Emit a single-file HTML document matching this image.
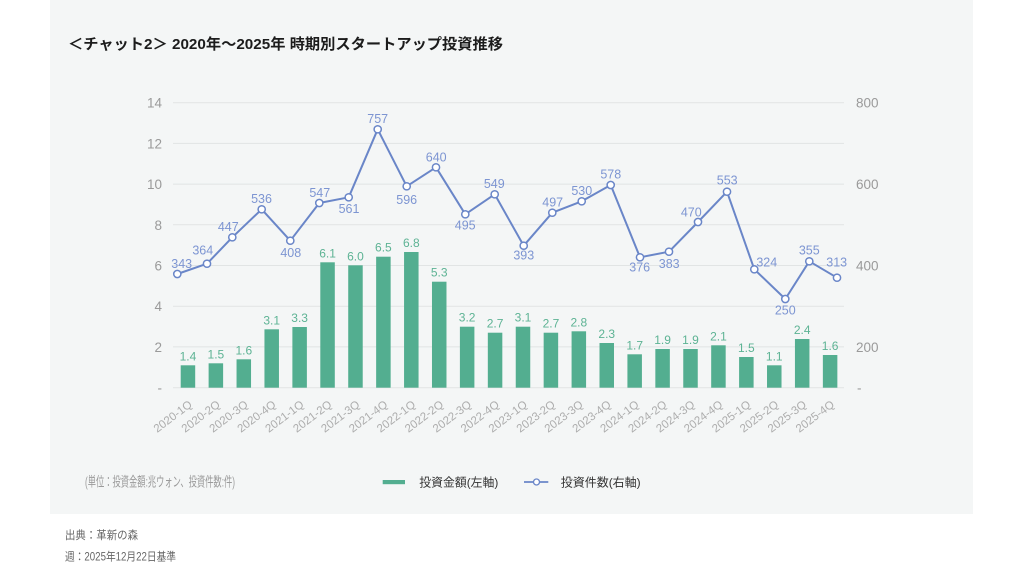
<!DOCTYPE html>
<html><head><meta charset="utf-8"><style>
html,body{margin:0;padding:0;background:#fff;}
svg{display:block;}
text{font-family:"Liberation Sans","Noto Sans CJK JP",sans-serif;}
</style></head><body>
<svg width="1024" height="576" viewBox="0 0 1024 576" xmlns="http://www.w3.org/2000/svg">
<rect x="0" y="0" width="1024" height="576" fill="#ffffff"/>
<rect x="50" y="0" width="923" height="514" fill="#f4f6f6"/>
<text x="68" y="49" font-size="15" font-weight="bold" fill="#1c1c1c" textLength="435" lengthAdjust="spacingAndGlyphs">＜チャット2＞ 2020年～2025年 時期別スタートアップ投資推移</text>
<g stroke="#e1e4e4" stroke-width="1">
<line x1="173" y1="102.7" x2="844" y2="102.7"/>
<line x1="173" y1="143.4" x2="844" y2="143.4"/>
<line x1="173" y1="184.1" x2="844" y2="184.1"/>
<line x1="173" y1="224.8" x2="844" y2="224.8"/>
<line x1="173" y1="265.5" x2="844" y2="265.5"/>
<line x1="173" y1="306.2" x2="844" y2="306.2"/>
<line x1="173" y1="346.9" x2="844" y2="346.9"/>
<line x1="173" y1="387.7" x2="844" y2="387.7"/>
</g>
<g font-size="13.5" fill="#9a9a9a" text-anchor="end">
<text x="162" y="107.7">14</text>
<text x="162" y="148.4">12</text>
<text x="162" y="189.1">10</text>
<text x="162" y="229.8">8</text>
<text x="162" y="270.5">6</text>
<text x="162" y="311.2">4</text>
<text x="162" y="351.9">2</text>
<text x="162" y="392.7">-</text>
</g>
<g font-size="13.5" fill="#9a9a9a">
<text x="856" y="107.7">800</text>
<text x="856" y="189.1">600</text>
<text x="856" y="270.5">400</text>
<text x="856" y="351.9">200</text>
<text x="857" y="392.7">-</text>
</g>
<g fill="#53ae90" id="bars"></g>
<g id="barlabels" font-size="12" fill="#5db394" text-anchor="middle"></g>
<g id="xlabels" font-size="11.5" fill="#adadad" text-anchor="end"></g>
<polyline id="line" fill="none" stroke="#6a86c8" stroke-width="2" stroke-linejoin="round" points=""/>
<g id="pts" fill="#ffffff" stroke="#6a86c8" stroke-width="1.5"></g>
<g id="linelabels" font-size="12.5" fill="#7d95d2" text-anchor="middle"></g>
<text x="85" y="486.5" font-size="13.5" fill="#9a9a9a" textLength="150" lengthAdjust="spacingAndGlyphs">(単位：投資金額:兆ウォン、投資件数:件)</text>
<rect x="382.7" y="480" width="22.3" height="4.2" fill="#53ae90"/>
<text x="419.3" y="486.5" font-size="12" fill="#333" textLength="79" lengthAdjust="spacingAndGlyphs">投資金額(左軸)</text>
<line x1="524" y1="482" x2="548.3" y2="482" stroke="#6a86c8" stroke-width="1.8"/>
<circle cx="536.5" cy="482" r="3" fill="#fff" stroke="#6a86c8" stroke-width="1.3"/>
<text x="560.7" y="486.5" font-size="12" fill="#333" textLength="80" lengthAdjust="spacingAndGlyphs">投資件数(右軸)</text>
<text x="65" y="539" font-size="11.5" fill="#666" textLength="73" lengthAdjust="spacingAndGlyphs">出典：革新の森</text>
<text x="65" y="560.5" font-size="11.5" fill="#666" textLength="111" lengthAdjust="spacingAndGlyphs">週：2025年12月22日基準</text>
</svg>
<script>
(function(){
var NS="http://www.w3.org/2000/svg";
var tops=[365.3,363.3,359.3,329.3,327,262.3,265.3,256.7,252,281.7,326.7,332.7,326.7,332.7,331.3,343,354.3,349,349,345.3,357,365.3,339,355];
var bl=["1.4","1.5","1.6","3.1","3.3","6.1","6.0","6.5","6.8","5.3","3.2","2.7","3.1","2.7","2.8","2.3","1.7","1.9","1.9","2.1","1.5","1.1","2.4","1.6"];
var xl=["2020-1Q","2020-2Q","2020-3Q","2020-4Q","2021-1Q","2021-2Q","2021-3Q","2021-4Q","2022-1Q","2022-2Q","2022-3Q","2022-4Q","2023-1Q","2023-2Q","2023-3Q","2023-4Q","2024-1Q","2024-2Q","2024-3Q","2024-4Q","2025-1Q","2025-2Q","2025-3Q","2025-4Q"];
var pts=[[177.3,274],[207,263.7],[232.3,237.3],[261.7,209.3],[290.3,240.7],[319.3,203],[348.7,197.3],[377.7,129.3],[406.7,186.3],[436,167.3],[465.3,214.3],[494.7,194.3],[523.7,245.7],[552.3,212.7],[581.7,201.3],[610.7,185],[640,257.3],[669,251.7],[698,222],[727,191.7],[754.3,269.3],[785.3,299],[809.3,261.3],[837,277.7]];
var ll=[["343",181.7,263.7],["364",202.8,250],["447",228.3,226.7],["536",261.5,198.7],["408",290.8,252.7],["547",319.8,192.7],["561",349,208.7],["757",377.7,118.7],["596",406.7,199.7],["640",436.2,157],["495",465.2,225],["549",494.3,183.7],["393",523.8,255.3],["497",552.7,202],["530",581.8,190.7],["578",610.8,174.3],["376",639.7,267],["383",669.2,263.7],["470",691.3,212],["553",727.2,180.3],["324",766.8,262.3],["250",785.3,310.3],["355",809.3,250.3],["313",836.7,262]];
function el(t,a,p,txt){var e=document.createElementNS(NS,t);for(var k in a)e.setAttribute(k,a[k]);if(txt)e.textContent=txt;p.appendChild(e);return e;}
var gb=document.getElementById("bars"),gbl=document.getElementById("barlabels"),gx=document.getElementById("xlabels");
for(var i=0;i<24;i++){
var x=180.7+27.92*i,cx=x+7.25;
el("rect",{x:x,y:tops[i],width:14.5,height:387.7-tops[i]},gb);
el("text",{x:cx,y:tops[i]-5},gbl,bl[i]);
var ax=cx+5,ay=406;
el("text",{x:ax,y:ay,transform:"rotate(-37 "+ax+" "+ay+")"},gx,xl[i]);
}
document.getElementById("line").setAttribute("points",pts.map(function(p){return p[0]+","+p[1];}).join(" "));
var gp=document.getElementById("pts");
pts.forEach(function(p){el("circle",{cx:p[0],cy:p[1],r:3.6},gp);});
var gl=document.getElementById("linelabels");
ll.forEach(function(l){el("text",{x:l[1],y:l[2]+4.4},gl,l[0]);});
})();
</script>
</body></html>
